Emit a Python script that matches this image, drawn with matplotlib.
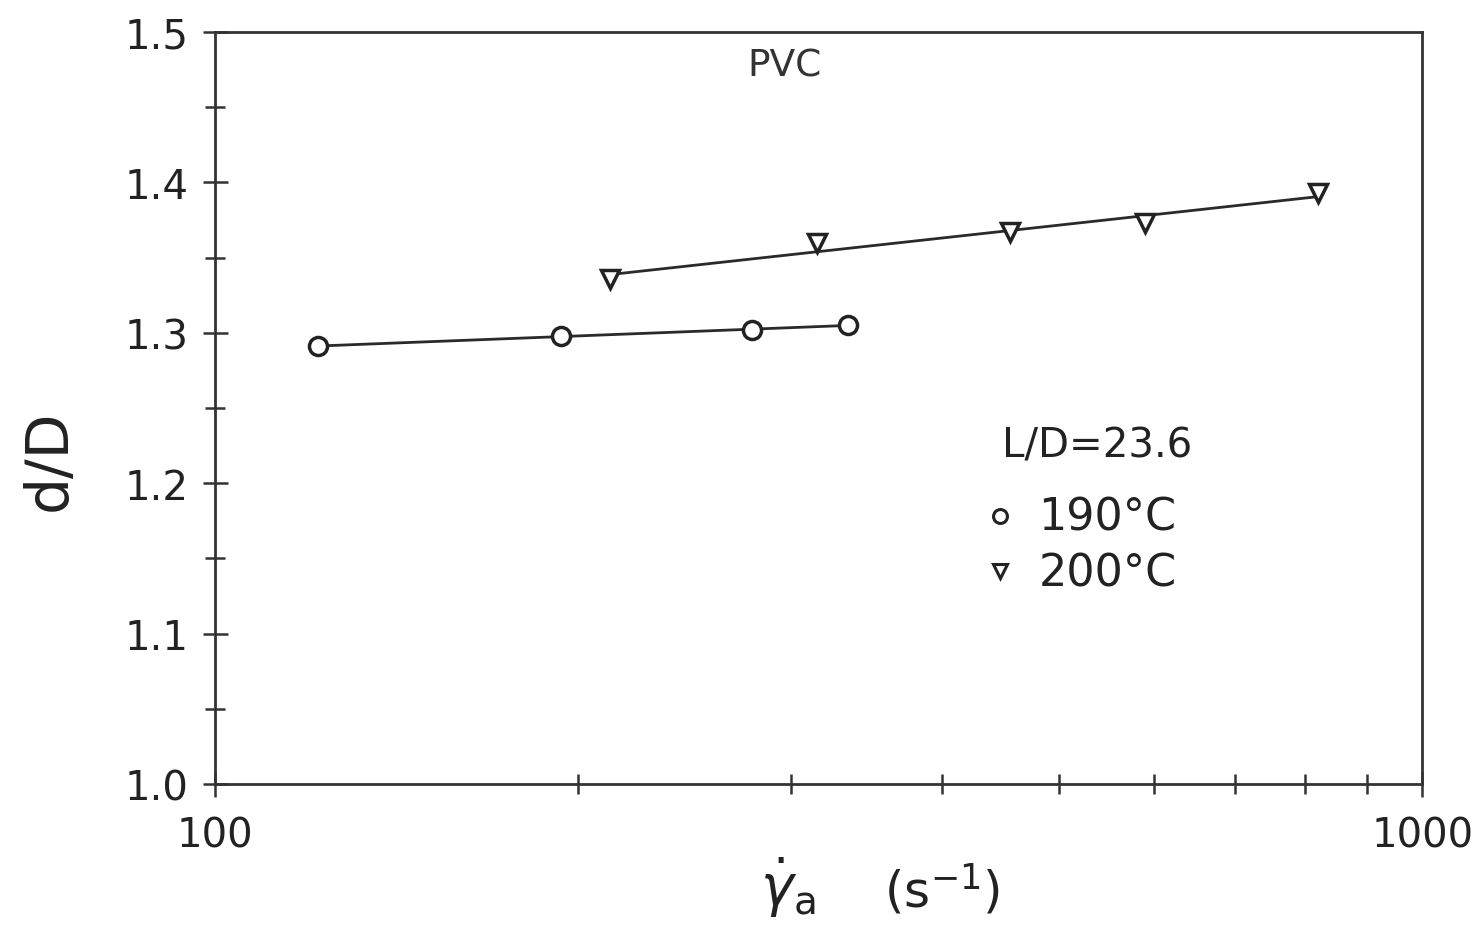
import numpy as np
import matplotlib.pyplot as plt
from matplotlib.ticker import FixedLocator, NullFormatter

# die swell of PVC vs apparent shear rate
rate_190 = [121.7, 193.5, 278.6, 334.5]
swell_190 = [1.291, 1.298, 1.302, 1.305]

rate_200 = [212.4, 315.3, 455.7, 589.5, 820.0]
swell_200 = [1.336, 1.360, 1.367, 1.373, 1.393]

plt.rcParams['font.family'] = ['DejaVu Sans']

fig = plt.figure(figsize=(14.83, 9.29), dpi=100)
ax = fig.add_axes([0.145, 0.155, 0.814, 0.8095])

ax.set_xscale('log')
ax.set_xlim(100, 1000)
ax.set_ylim(1.0, 1.5)

lw = 2.0
# straight lines fitted in log(rate)
for rate, swell in [(rate_190, swell_190), (rate_200, swell_200)]:
    lr = np.log10(rate)
    k, b = np.polyfit(lr, swell, 1)
    xs = np.array([lr[0], lr[-1]])
    ax.plot(10 ** xs, k * xs + b, color='#2a2a2a', lw=lw, zorder=2)

ax.plot(rate_190, swell_190, ls='none', marker='o', ms=13, mfc='white',
        mec='#222222', mew=2.5, zorder=3)
ax.plot(rate_200, swell_200, ls='none', marker='v', ms=13, mfc='white',
        mec='#222222', mew=2.5, zorder=3)

ax.xaxis.set_major_locator(FixedLocator([100, 1000]))
ax.xaxis.set_minor_locator(FixedLocator([200, 300, 400, 500, 600, 700, 800, 900]))
ax.xaxis.set_minor_formatter(NullFormatter())
ax.set_xticklabels(['100', '1000'])
ax.yaxis.set_major_locator(FixedLocator(np.arange(1.0, 1.51, 0.1)))
ax.yaxis.set_minor_locator(FixedLocator(np.arange(1.05, 1.5, 0.1)))
ax.set_yticklabels(['1.0', '1.1', '1.2', '1.3', '1.4', '1.5'])

ax.tick_params(which='both', direction='inout', width=1.8, color='#333333',
               labelsize=29, labelcolor='#222222')
ax.tick_params(which='major', length=18, pad=10)
ax.tick_params(which='minor', length=14)
ax.tick_params(axis='x', which='major', pad=14)
for s in ax.spines.values():
    s.set_linewidth(lw)
    s.set_color('#333333')

ax.text(0.472, 0.955, 'PVC', transform=ax.transAxes, fontsize=27,
        ha='center', va='center', color='#333333')
ax.text(0.652, 0.45, 'L/D=23.6', transform=ax.transAxes, fontsize=29,
        va='center', color='#222222')
ax.plot([0.65], [0.357], transform=ax.transAxes, marker='o', ms=10,
        mfc='white', mec='#222222', mew=2.2, clip_on=False)
ax.text(0.682, 0.355, '190°C', transform=ax.transAxes, fontsize=32,
        va='center', color='#222222')
ax.plot([0.65], [0.283], transform=ax.transAxes, marker='v', ms=10,
        mfc='white', mec='#222222', mew=2.2, clip_on=False)
ax.text(0.682, 0.281, '200°C', transform=ax.transAxes, fontsize=32,
        va='center', color='#222222')

fig.text(0.033, 0.505, 'd/D', fontsize=42, rotation=90,
         ha='center', va='center', color='#222222')
fig.text(0.531, 0.045, r'$\dot{\gamma}_\mathrm{a}$', fontsize=40,
         ha='center', va='center', color='#222222')
fig.text(0.635, 0.042, r'(s$^{-1}$)', fontsize=36,
         ha='center', va='center', color='#222222')

fig.savefig('out.png', dpi=100, facecolor='white')
